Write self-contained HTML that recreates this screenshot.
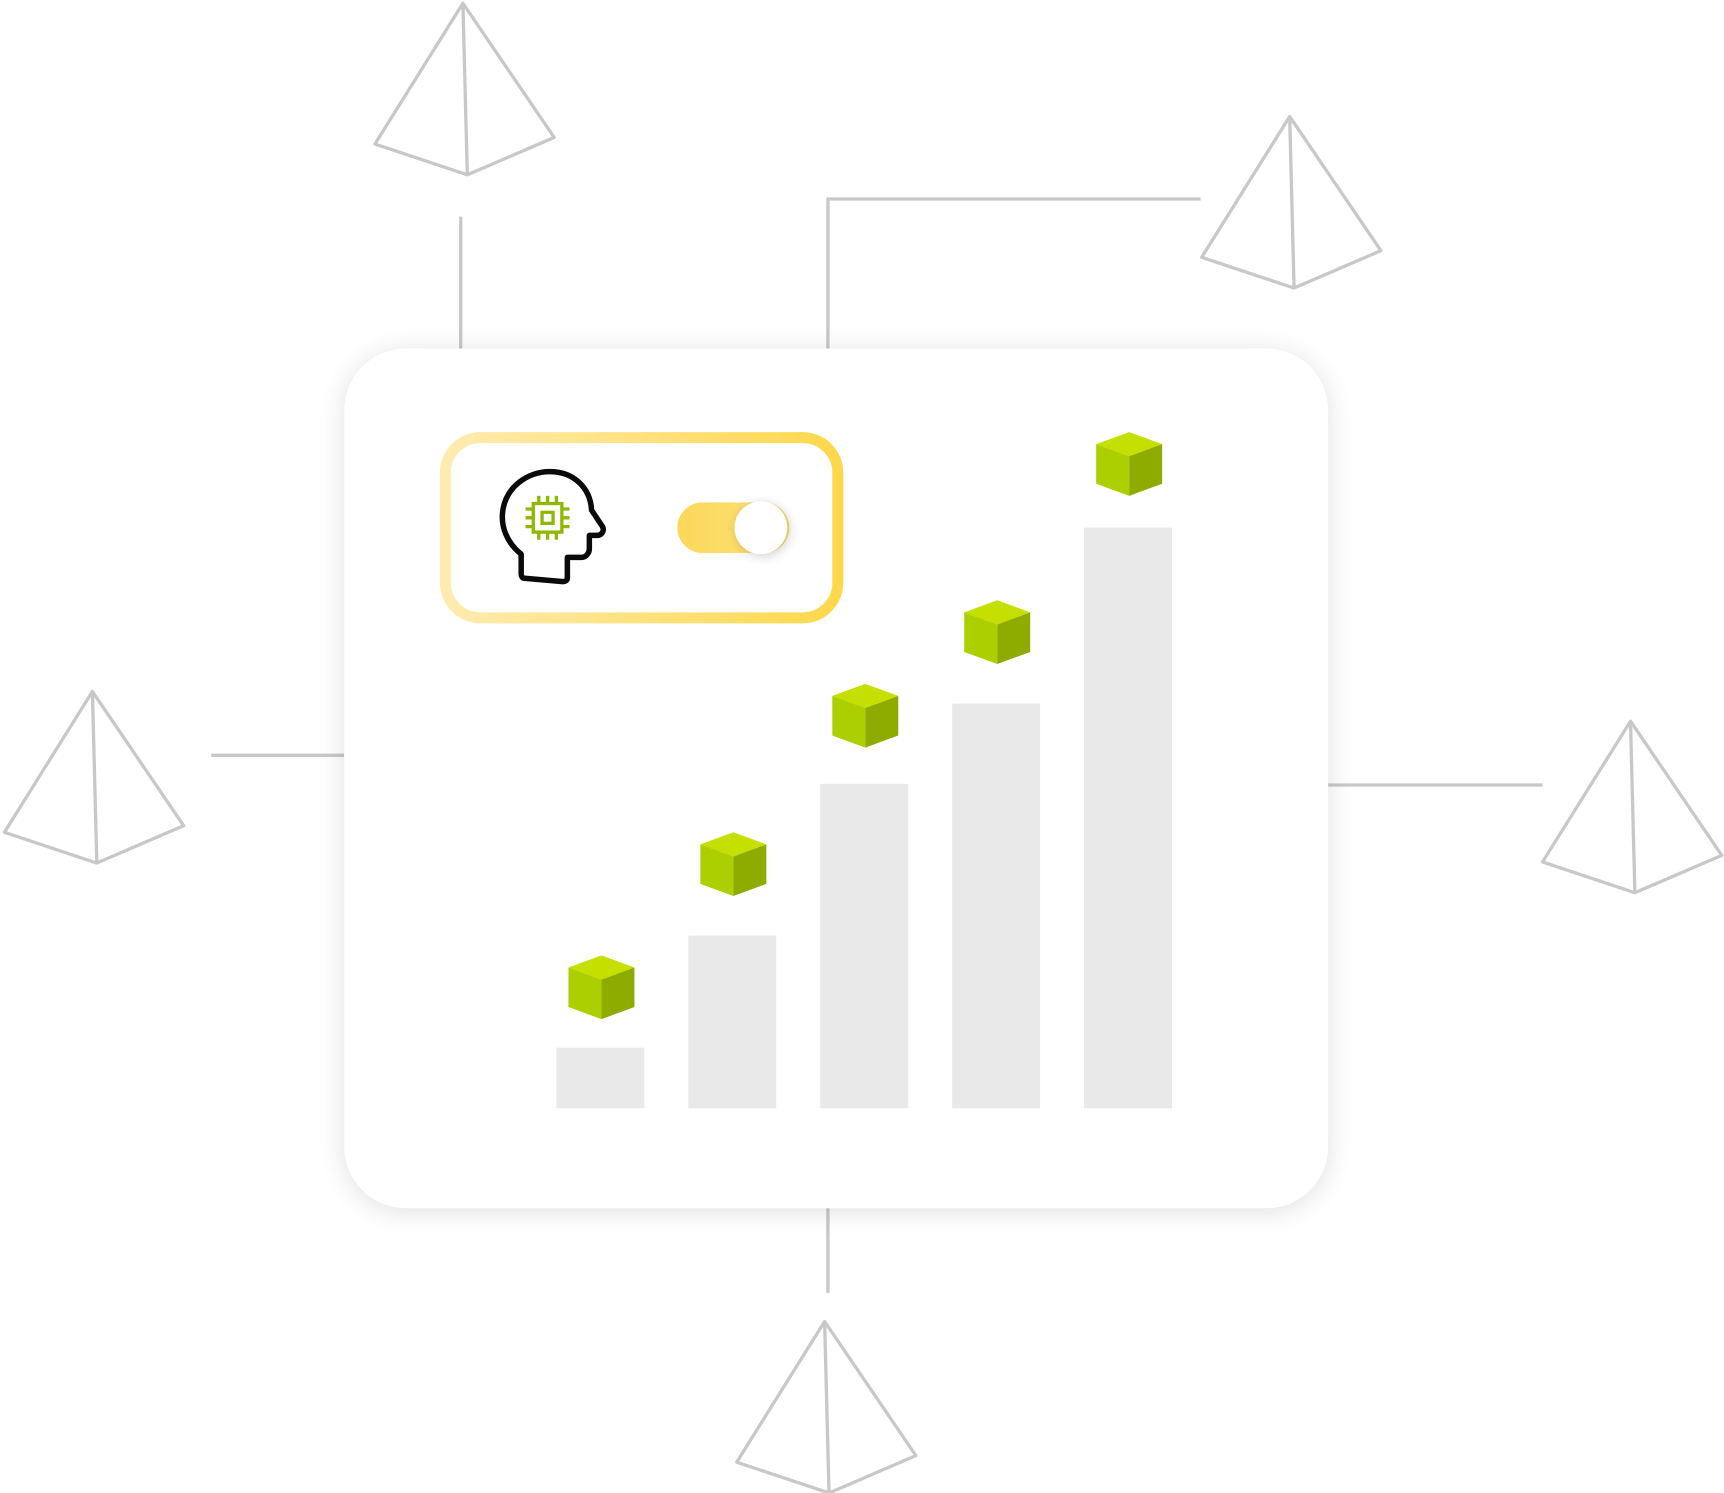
<!DOCTYPE html>
<html><head><meta charset="utf-8"><style>
html,body{margin:0;padding:0;background:#fff;}
svg{display:block;}
</style></head><body>
<svg width="1724" height="1493" viewBox="0 0 1568 1358" xmlns="http://www.w3.org/2000/svg">
<defs>
<filter id="sh" x="-10%" y="-10%" width="120%" height="120%"><feGaussianBlur stdDeviation="12"/></filter>
<filter id="ks" x="-50%" y="-50%" width="200%" height="200%"><feGaussianBlur stdDeviation="5"/></filter>
<linearGradient id="yb" x1="0" x2="1" y1="0" y2="0"><stop offset="0" stop-color="#feebb0"/><stop offset="1" stop-color="#fdd84c"/></linearGradient>
<linearGradient id="tg" x1="0" x2="1"><stop offset="0" stop-color="#fcd85a"/><stop offset="1" stop-color="#fde17a"/></linearGradient>
<g id="pyr" fill="none" stroke="#c8c8c8" stroke-width="3" stroke-linejoin="round">
<path d="M0 0 L-80 128 L4 156 L83 122 Z M0 0 L4 156"/>
</g>
<g id="cube">
<path d="M-30 11 L0 0 L30 11 L0 22 Z" fill="#c4df00"/>
<path d="M-30 11 L0 22 L0 58 L-30 47 Z" fill="#abcf00"/>
<path d="M30 11 L0 22 L0 58 L30 47 Z" fill="#8eab00"/>
</g>
</defs>
<g fill="none" stroke="#c8c8c8" stroke-width="3">
<path d="M419 197 V317"/>
<path d="M753 317 V181 H1092"/>
<path d="M192 687 H313"/>
<path d="M1208 714 H1403"/>
<path d="M753 1099 V1176"/>
</g>
<use href="#pyr" x="421" y="3"/>
<use href="#pyr" x="1173" y="106"/>
<use href="#pyr" x="84" y="629"/>
<use href="#pyr" x="1483" y="656"/>
<use href="#pyr" x="750" y="1202"/>
<rect x="313" y="320" width="895" height="782" rx="56" fill="#000" opacity="0.12" filter="url(#sh)"/>
<rect x="313" y="317" width="895" height="782" rx="56" fill="#fff"/>
<g fill="#e9e9e9">
<rect x="506" y="953" width="80" height="55"/>
<rect x="626" y="851" width="80" height="157"/>
<rect x="746" y="713" width="80" height="295"/>
<rect x="866" y="640" width="80" height="368"/>
<rect x="986" y="480" width="80" height="528"/>
</g>
<use href="#cube" x="547" y="869"/>
<use href="#cube" x="667" y="757"/>
<use href="#cube" x="787" y="622"/>
<use href="#cube" x="907" y="546"/>
<use href="#cube" x="1027" y="393"/>
<rect x="405" y="398" width="357" height="164" rx="32" fill="#fff" stroke="url(#yb)" stroke-width="10"/>
<rect x="616" y="457" width="102" height="46" rx="23" fill="url(#tg)"/>
<circle cx="694" cy="482" r="24" fill="#000" opacity="0.18" filter="url(#ks)"/>
<circle cx="692" cy="480" r="24" fill="#fff"/>
<path d="M474 504 C460 493 456 478 457 467 C459 443 480 429 500 429 C522 429 537 444 538 464 L548 479 C550 483 547 487 543 487 L536 487 L536 499 C536 503 533 507 529 507 L516 507 L516 526 C516 528 514 529 512 529 L477 526 C475 526 474 524 474 522 Z" fill="none" stroke="#0a0a0a" stroke-width="5" stroke-linejoin="round"/>
<g fill="none" stroke="#8fb800" stroke-width="3">
<rect x="485" y="458" width="26" height="26"/>
<rect x="493" y="466" width="10" height="10"/>
<path d="M490 458 v-7 M498 458 v-7 M506 458 v-7 M490 484 v7 M498 484 v7 M506 484 v7 M485 463 h-7 M485 471 h-7 M485 479 h-7 M511 463 h7 M511 471 h7 M511 479 h7"/>
</g>
</svg>
</body></html>
